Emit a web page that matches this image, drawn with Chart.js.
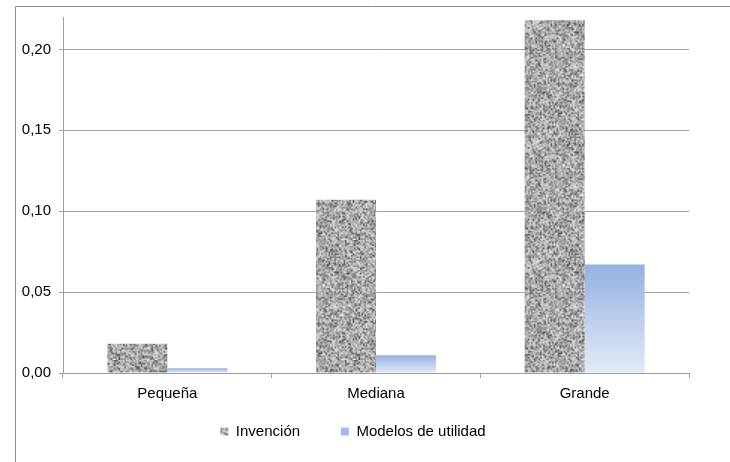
<!DOCTYPE html>
<html>
<head>
<meta charset="utf-8">
<script src="https://cdn.jsdelivr.net/npm/chart.js@4/dist/chart.umd.min.js"></script>
<style>
  body { margin: 0; background: #fff; overflow: hidden; }
  canvas { display: block; }
</style>
</head>
<body>
<canvas id="chart" width="730" height="462"></canvas>
<script>
const categories = ['Pequeña', 'Mediana', 'Grande'];
const invencion = [0.018, 0.107, 0.218];
const modelosUtilidad = [0.003, 0.011, 0.067];
const seriesNames = ['Invención', 'Modelos de utilidad'];

// granite-like gray texture (seeded so it is stable)
function makeGranite() {
  const n = 80;
  const small = document.createElement('canvas');
  small.width = n; small.height = n;
  const sg = small.getContext('2d');
  const img = sg.createImageData(n, n);
  let seed = 12345;
  const rnd = () => { seed = (seed * 1103515245 + 12345) & 0x7fffffff; return seed / 0x7fffffff; };
  for (let i = 0; i < n * n; i++) {
    let v = 128 + rnd() * 100;
    if (rnd() < 0.12) v = 70 + rnd() * 40;
    img.data[i * 4] = v; img.data[i * 4 + 1] = v; img.data[i * 4 + 2] = v + 2; img.data[i * 4 + 3] = 255;
  }
  sg.putImageData(img, 0, 0);
  const c = document.createElement('canvas');
  c.width = n * 1.5; c.height = n * 1.5;
  const g = c.getContext('2d');
  g.imageSmoothingEnabled = true;
  g.drawImage(small, 0, 0, c.width, c.height);
  return g.createPattern(c, 'repeat');
}
const granite = makeGranite();

function blueGradient(ctx) {
  const chart = ctx.chart;
  const y = chart.scales.y;
  if (!y || ctx.type !== 'data' || ctx.raw == null) return '#a3bce7';
  const top = y.getPixelForValue(ctx.raw);
  const base = y.getPixelForValue(0);
  const grad = chart.ctx.createLinearGradient(0, top, 0, base);
  grad.addColorStop(0, '#93b1e3');
  grad.addColorStop(1, '#e3eaf6');
  return grad;
}

const outerBorder = {
  id: 'outerBorder',
  beforeDraw(chart) {
    const c = chart.ctx;
    c.save();
    c.fillStyle = '#fff';
    c.fillRect(0, 0, chart.width, chart.height);
    c.strokeStyle = '#8c8c8c';
    c.lineWidth = 1;
    c.beginPath();
    c.moveTo(15.5, chart.height);
    c.lineTo(15.5, 6.5);
    c.lineTo(chart.width, 6.5);
    c.stroke();
    c.restore();
  }
};

Chart.defaults.font.family = '"Liberation Sans", Arial, sans-serif';
Chart.defaults.font.size = 15;
Chart.defaults.color = '#000';

new Chart(document.getElementById('chart'), {
  type: 'bar',
  data: {
    labels: categories,
    datasets: [
      { label: seriesNames[0], data: invencion, backgroundColor: granite },
      { label: seriesNames[1], data: modelosUtilidad, backgroundColor: blueGradient }
    ]
  },
  options: {
    responsive: false,
    animation: false,
    categoryPercentage: 0.575,
    barPercentage: 1,
    layout: { padding: { left: 17, right: 41, top: 17, bottom: 13 } },
    plugins: {
      tooltip: { enabled: false },
      legend: {
        position: 'bottom',
        labels: {
          boxWidth: 8,
          boxHeight: 8,
          padding: 20,
          // trailing spaces widen the gap between the two items
          generateLabels: chart => chart.data.datasets.map((ds, i) => ({
            text: i === 0 ? ds.label + '\u00a0\u00a0\u00a0\u00a0\u00a0' : ds.label,
            fillStyle: i === 0 ? granite : '#a3bce7',
            strokeStyle: 'rgba(0,0,0,0)',
            lineWidth: 0,
            datasetIndex: i,
            hidden: false
          }))
        }
      }
    },
    scales: {
      x: {
        offset: true,
        grid: { offset: true, drawOnChartArea: false, drawTicks: true, tickLength: 5, color: '#9d9d9d' },
        border: { display: true, color: '#9d9d9d' },
        ticks: { padding: 7, color: '#000' },
        afterFit: scale => { scale.height = 31; }
      },
      y: {
        min: 0,
        max: 0.22,
        grid: { color: '#a3a3a3', tickLength: 4 },
        border: { display: true, color: '#9d9d9d' },
        ticks: {
          stepSize: 0.05,
          padding: 8,
          color: '#000',
          callback: v => v.toFixed(2).replace('.', ',')
        },
        afterBuildTicks: axis => { axis.ticks = axis.ticks.filter(t => t.value <= 0.2001); },
        afterFit: scale => { scale.width = 46; }
      }
    }
  },
  plugins: [outerBorder]
});
</script>
</body>
</html>
